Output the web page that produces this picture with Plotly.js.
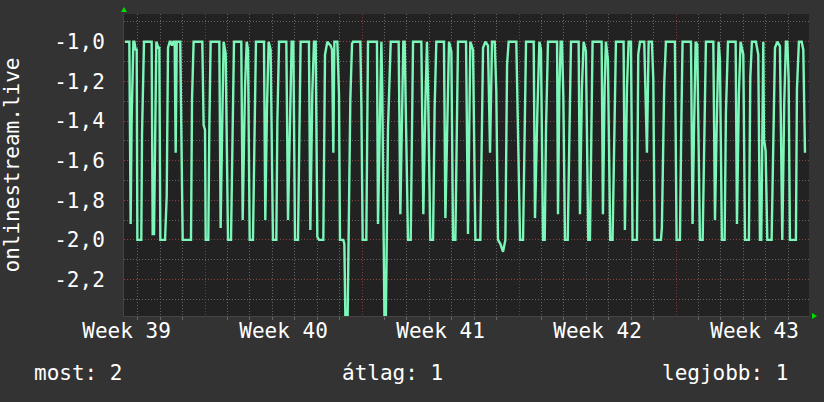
<!DOCTYPE html>
<html>
<head>
<meta charset="utf-8">
<script src="https://cdn.plot.ly/plotly-3.0.1.min.js"></script>
<style>
  html, body { margin: 0; padding: 0; background: #333333; }
  #chart { width: 824px; height: 402px; }
</style>
</head>
<body>
<div id="chart"></div>
<script>
// Time of each sample: hours since the start of the window (window starts 2023-09-28 09:18)
const hours = [
  1.1, 5.7, 7.1, 8.2, 10.0, 11.1, 12.5, 13.6, 14.3, 18.5, 19.3, 21.4, 29.6, 30.7, 32.1, 33.5, 34.6, 36.7, 37.8, 38.9,
  43.9, 45.7, 47.1, 48.9, 49.9, 51.4, 52.8, 54.2, 55.3, 56.4, 60.2, 61.0, 62.8, 71.7, 72.8, 74.5, 83.8, 85.2, 86.7, 87.4,
  90.2, 91.3, 92.7, 102.0, 103.4, 105.2, 106.6, 108.8, 111.3, 114.5, 115.9, 117.7, 125.5, 127.0, 129.5, 131.3, 132.7, 134.5, 138.0, 139.8,
  141.2, 149.8, 151.2, 153.0, 154.8, 156.9, 159.4, 163.0, 164.1, 165.9, 173.7, 175.5, 177.6, 179.4, 181.2, 183.0, 186.2, 189.0, 197.9, 199.4,
  201.5, 203.3, 205.1, 206.9, 208.7, 213.3, 215.1, 217.6, 221.1, 222.6, 224.0, 225.1, 228.3, 230.1, 231.1, 234.7, 235.8, 237.2, 239.0, 240.8,
  242.2, 244.0, 245.0, 252.9, 254.0, 255.4, 259.3, 261.1, 270.7, 271.8, 273.6, 275.4, 276.4, 278.9, 280.0, 281.1, 282.5, 285.4, 293.9, 295.7,
  297.8, 298.9, 300.3, 301.4, 303.9, 306.8, 309.3, 318.2, 320.3, 322.5, 324.2, 325.3, 327.8, 330.7, 332.4, 334.2, 342.4, 343.9, 346.0, 347.8,
  350.3, 352.1, 354.6, 356.3, 357.4, 366.0, 368.1, 370.6, 373.5, 376.0, 381.3, 382.4, 384.2, 386.7, 389.5, 391.7, 393.8, 396.7, 398.4, 400.2,
  402.7, 405.6, 408.1, 409.9, 411.6, 419.8, 421.6, 423.8, 427.0, 428.4, 430.2, 438.4, 439.8, 442.3, 444.5, 446.2, 448.4, 450.2, 451.6, 453.7,
  463.4, 464.4, 465.9, 467.3, 468.7, 470.1, 471.9, 474.8, 476.6, 478.3, 486.5, 487.9, 490.0, 491.8, 494.3, 496.8, 498.6, 500.4, 501.4, 511.1,
  512.5, 514.3, 515.7, 517.8, 520.3, 522.8, 524.6, 526.4, 534.6, 536.0, 538.2, 540.0, 542.5, 544.2, 548.9, 550.3, 552.1, 556.7, 559.6, 561.4,
  564.9, 566.4, 567.8, 574.6, 575.6, 578.1, 579.9, 589.5, 591.3, 594.9, 596.3, 597.7, 606.7, 608.4, 609.9, 611.7, 613.4, 616.3, 619.2, 620.6,
  622.7, 630.6, 632.4, 634.5, 636.3, 637.7, 639.8, 642.7, 644.1, 646.3, 654.5, 655.9, 658.0, 659.8, 662.7, 664.5, 668.7, 670.2, 671.9, 676.2,
  678.7, 680.5, 681.9, 684.1, 684.8, 686.6, 688.4, 693.0, 694.8, 696.6, 699.1, 701.9, 704.4, 706.5, 708.3, 709.8, 711.2, 712.6, 719.0, 720.1,
  722.2, 725.1, 726.9, 728.7
];
const values = [
  -1.0, -1.0, -1.92, -1.39, -1.0, -1.0, -1.04, -1.04, -2.0, -2.0, -1.46, -1.0, -1.0, -1.97, -1.97, -1.31, -1.0, -1.03, -1.03, -2.0,
  -2.0, -1.78, -1.03, -1.0, -1.0, -1.02, -1.0, -1.0, -1.56, -1.0, -1.0, -1.32, -2.0, -2.0, -1.29, -1.0, -1.0, -1.42, -1.445, -2.0,
  -2.0, -1.44, -1.0, -1.0, -1.94, -1.39, -1.0, -1.06, -2.0, -2.0, -1.51, -1.0, -1.0, -1.9, -1.23, -1.0, -1.04, -2.0, -2.0, -1.36,
  -1.0, -1.0, -1.9, -1.335, -1.0, -1.04, -2.0, -2.0, -1.41, -1.0, -1.0, -1.9, -1.44, -1.0, -1.0, -2.0, -2.0, -1.0, -1.0, -1.95,
  -1.26, -1.0, -1.0, -1.985, -2.0, -2.0, -1.064, -1.0, -1.02, -1.04, -1.56, -1.0, -1.0, -1.27, -2.0, -2.0, -2.02, -2.5, -2.5, -1.85,
  -1.29, -1.01, -1.0, -1.0, -1.32, -2.0, -2.0, -1.0, -1.0, -1.92, -1.46, -1.0, -1.25, -2.5, -2.5, -2.0, -1.44, -1.0, -1.0, -1.87,
  -1.31, -1.0, -1.0, -1.25, -2.0, -2.0, -1.0, -1.0, -1.87, -1.31, -1.0, -1.225, -2.0, -2.0, -1.335, -1.0, -1.0, -1.89, -1.335, -1.0,
  -1.05, -2.0, -2.0, -1.44, -1.0, -1.0, -1.97, -1.0, -1.04, -2.0, -2.0, -1.64, -1.03, -1.0, -1.02, -1.56, -1.0, -1.0, -1.25, -2.0,
  -2.02, -2.06, -2.0, -1.115, -1.0, -1.0, -1.38, -2.0, -2.0, -1.46, -1.0, -1.0, -1.89, -1.36, -1.0, -1.04, -2.0, -2.0, -1.44, -1.0,
  -1.0, -1.87, -1.24, -1.0, -1.0, -1.275, -2.0, -2.0, -1.335, -1.0, -1.0, -1.87, -1.24, -1.0, -1.047, -2.0, -2.0, -1.41, -1.0, -1.0,
  -1.87, -1.233, -1.0, -1.09, -2.0, -2.0, -1.385, -1.0, -1.0, -1.95, -1.233, -1.0, -1.0, -2.0, -2.0, -1.064, -1.0, -1.0, -1.56, -1.0,
  -1.0, -1.19, -2.0, -2.0, -1.935, -1.21, -1.0, -1.0, -2.0, -2.0, -1.44, -1.0, -1.0, -1.92, -1.46, -1.0, -1.014, -2.0, -2.0, -1.51,
  -1.0, -1.0, -1.9, -1.36, -1.0, -1.09, -2.0, -2.0, -1.36, -1.0, -1.0, -1.92, -1.26, -1.0, -1.064, -2.0, -2.0, -1.18, -1.0, -1.0,
  -1.064, -2.0, -2.0, -1.0, -1.49, -1.55, -2.0, -2.0, -1.46, -1.03, -1.0, -1.022, -2.0, -1.31, -1.0, -1.0, -1.19, -2.0, -2.0, -1.24,
  -1.0, -1.0, -1.04, -1.56
];

const seriesName = 'onlinestream.live';
const yTickValues = [-2.2, -2.0, -1.8, -1.6, -1.4, -1.2, -1.0];
const yTickLabels = ['-2,2', '-2,0', '-1,8', '-1,6', '-1,4', '-1,2', '-1,0'];
const legendItems = ['most: 2', 'átlag: 1', 'legjobb: 1'];

const startMs = Date.UTC(2023, 8, 28, 9, 18);
const windowHours = 733;
const HOUR = 3600000;
const xDates = hours.map(h => startMs + h * HOUR);

const FONT = 'DejaVu Sans Mono, monospace';
const majorGrid = 'rgba(150,60,60,0.85)';
const minorGrid = 'rgba(110,110,110,0.9)';

const trace = {
  x: xDates,
  y: values,
  type: 'scatter',
  mode: 'lines',
  name: seriesName,
  line: { color: '#7cf7b9', width: 2.4 },
  hoverinfo: 'skip'
};

const layout = {
  width: 824,
  height: 402,
  paper_bgcolor: '#333333',
  plot_bgcolor: '#222222',
  separators: ', ',
  showlegend: false,
  margin: { l: 124, r: 15, t: 14, b: 86, pad: 0 },
  font: { family: FONT, color: '#ffffff', size: 21 },
  xaxis: {
    type: 'date',
    range: [startMs, startMs + windowHours * HOUR],
    tick0: '2023-10-02',
    dtick: 7 * 24 * HOUR,
    ticklabelmode: 'period',
    tickformat: 'Week %V',
    tickfont: { family: FONT, size: 21, color: '#ffffff' },
    ticks: '',
    ticklabelstandoff: -4,
    showgrid: true,
    gridcolor: majorGrid,
    griddash: '1px,2px',
    gridwidth: 1,
    minor: {
      dtick: 24 * HOUR,
      tick0: '2023-10-02',
      showgrid: true,
      gridcolor: minorGrid,
      griddash: '1px,2px',
      ticks: 'outside',
      ticklen: 3,
      tickcolor: minorGrid
    },
    showline: true,
    linecolor: '#444444',
    zeroline: false,
    fixedrange: true,
    automargin: false
  },
  yaxis: {
    range: [-2.384, -0.86],
    tickmode: 'array',
    tickvals: yTickValues,
    ticktext: yTickLabels,
    tickfont: { family: FONT, size: 21, color: '#ffffff' },
    ticks: '',
    ticklabelstandoff: 14,
    showgrid: true,
    gridcolor: majorGrid,
    griddash: '1px,2px',
    gridwidth: 1,
    minor: {
      tickmode: 'linear',
      tick0: 0,
      dtick: 0.1,
      showgrid: true,
      gridcolor: minorGrid,
      griddash: '1px,2px'
    },
    showline: true,
    linecolor: '#444444',
    zeroline: false,
    fixedrange: true,
    automargin: false,
    title: {
      text: seriesName,
      font: { family: FONT, size: 21, color: '#ffffff' },
      standoff: 28
    }
  },
  shapes: [
    {
      type: 'path', xref: 'paper', yref: 'paper', xsizemode: 'pixel', ysizemode: 'pixel',
      xanchor: 0, yanchor: 1, path: 'M -3 2 L 3 2 L 0 7 Z',
      fillcolor: '#00dd00', line: { width: 0 }
    },
    {
      type: 'path', xref: 'paper', yref: 'paper', xsizemode: 'pixel', ysizemode: 'pixel',
      xanchor: 1, yanchor: 0, path: 'M 3 -3 L 3 3 L 8 0 Z',
      fillcolor: '#00dd00', line: { width: 0 }
    }
  ],
  annotations: [
    { text: legendItems[0], xref: 'paper', yref: 'paper', x: (32 - 124) / 685, y: -(373 - 316) / 302,
      xanchor: 'left', yanchor: 'middle', showarrow: false, font: { family: FONT, size: 21, color: '#ffffff' } },
    { text: legendItems[1], xref: 'paper', yref: 'paper', x: (392 - 124) / 685, y: -(373 - 316) / 302,
      xanchor: 'center', yanchor: 'middle', showarrow: false, font: { family: FONT, size: 21, color: '#ffffff' } },
    { text: legendItems[2], xref: 'paper', yref: 'paper', x: (790 - 124) / 685, y: -(373 - 316) / 302,
      xanchor: 'right', yanchor: 'middle', showarrow: false, font: { family: FONT, size: 21, color: '#ffffff' } }
  ]
};

Plotly.newPlot('chart', [trace], layout, { displayModeBar: false, staticPlot: true });
</script>
</body>
</html>
